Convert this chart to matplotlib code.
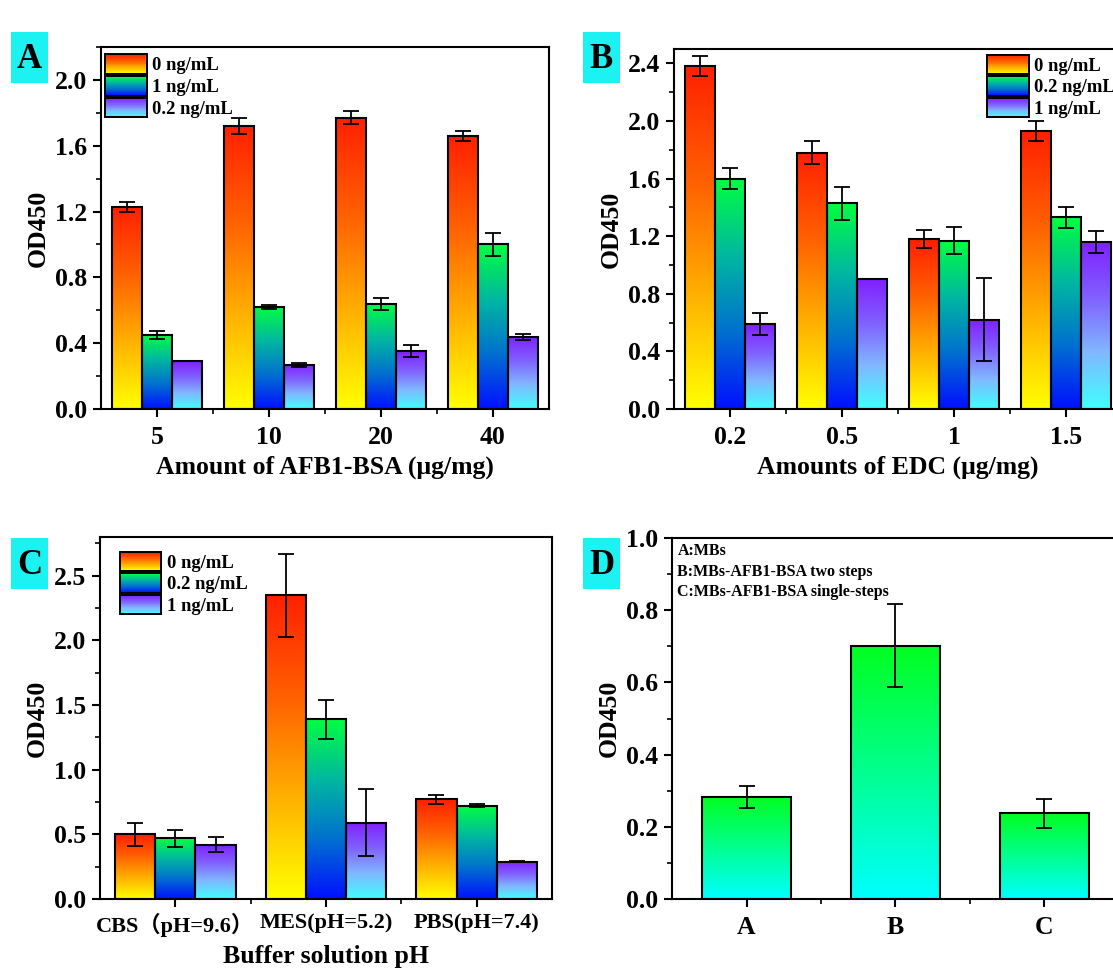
import numpy as np
import matplotlib
matplotlib.use('Agg')
import matplotlib.pyplot as plt
from matplotlib.colors import LinearSegmentedColormap
from matplotlib.patches import Rectangle, Patch
from matplotlib.legend_handler import HandlerBase
from matplotlib.ticker import AutoMinorLocator, FixedLocator, FormatStrFormatter

plt.rcParams['font.family'] = ['Liberation Serif', 'Noto Sans CJK SC']
plt.rcParams['font.weight'] = 'bold'
plt.rcParams['axes.linewidth'] = 1.5

# ---- data ----
a_cats = ['5', '10', '20', '40']
a_names = ['0 ng/mL', '1 ng/mL', '0.2 ng/mL']
a_vals = [[1.23, 1.72, 1.77, 1.66],
          [0.45, 0.62, 0.64, 1.00],
          [0.29, 0.27, 0.35, 0.44]]
a_err = [[0.03, 0.05, 0.04, 0.03],
         [0.024, 0.011, 0.037, 0.069],
         [0.0, 0.012, 0.037, 0.018]]

b_cats = ['0.2', '0.5', '1', '1.5']
b_names = ['0 ng/mL', '0.2 ng/mL', '1 ng/mL']
b_vals = [[2.38, 1.78, 1.18, 1.93],
          [1.60, 1.43, 1.17, 1.33],
          [0.59, 0.90, 0.62, 1.16]]
b_err = [[0.07, 0.08, 0.065, 0.07],
         [0.075, 0.115, 0.095, 0.07],
         [0.075, 0.0, 0.29, 0.075]]

c_cats = ['CBS（pH=9.6）', 'MES(pH=5.2)', 'PBS(pH=7.4)']
c_names = ['0 ng/mL', '0.2 ng/mL', '1 ng/mL']
c_vals = [[0.50, 2.35, 0.77],
          [0.47, 1.39, 0.72],
          [0.42, 0.59, 0.29]]
c_err = [[0.09, 0.32, 0.035],
         [0.065, 0.15, 0.012],
         [0.06, 0.26, 0.004]]

d_cats = ['A', 'B', 'C']
d_vals = [0.283, 0.702, 0.237]
d_err = [0.03, 0.115, 0.04]
d_note = ['A:MBs', 'B:MBs-AFB1-BSA two steps', 'C:MBs-AFB1-BSA single-steps']

# gradients: bottom colour -> top colour
cm_red = LinearSegmentedColormap.from_list('r', ['#FFFF00', '#FFB000', '#FF6000', '#FF2000'])
cm_grn = LinearSegmentedColormap.from_list('g', ['#0010FF', '#0070D0', '#00B8A0', '#00FF40'])
cm_pur = LinearSegmentedColormap.from_list('p', ['#40FFFF', '#80B8FF', '#8060FF', '#8020FF'])
cm_d = LinearSegmentedColormap.from_list('d', ['#00FFFF', '#00FF20'])
cmaps = [cm_red, cm_grn, cm_pur]

grad = np.linspace(0, 1, 256).reshape(-1, 1)
FS = 18.5


class GradHandler(HandlerBase):
    def __init__(self, cmap):
        super().__init__()
        self.cmap = cmap

    def create_artists(self, legend, orig_handle, xdescent, ydescent, width, height, fontsize, trans):
        arts = []
        n = 30
        for k in range(n):
            arts.append(Rectangle((-xdescent, -ydescent + height * k / n), width, height / n * 1.1,
                                  facecolor=self.cmap(k / (n - 1)), edgecolor='none', transform=trans))
        arts.append(Rectangle((-xdescent, -ydescent), width, height, fill=False,
                              edgecolor='black', lw=1.4, transform=trans))
        return arts


def grad_bar(ax, x, h, w, cmap, e):
    ax.imshow(grad, extent=(x - w / 2, x + w / 2, 0, h), origin='lower', aspect='auto',
              cmap=cmap, zorder=2, interpolation='bilinear')
    ax.bar(x, h, w, fill=False, edgecolor='black', lw=1.5, zorder=3)
    if e > 0:
        ax.errorbar(x, h, yerr=e, fmt='none', ecolor='black', capsize=6,
                    elinewidth=1.3, capthick=1.3, zorder=4)


def style(ax, ylim, ystep, ncat):
    ax.set_xlim(-0.5, ncat - 0.5)
    ax.set_ylim(0, ylim)
    ax.set_yticks(np.arange(0, ylim + 1e-9, ystep))
    ax.yaxis.set_major_formatter(FormatStrFormatter('%.1f'))
    ax.yaxis.set_minor_locator(AutoMinorLocator(2))
    ax.xaxis.set_minor_locator(FixedLocator(np.arange(0.5, ncat - 0.5, 1)))
    ax.tick_params(which='major', direction='out', length=6, width=1.5, labelsize=FS, pad=4)
    ax.tick_params(axis='x', which='major', pad=6)
    ax.tick_params(which='minor', direction='out', length=3.5, width=1.2)
    ax.set_ylabel('OD450', fontsize=FS, fontweight='bold', labelpad=4)


def grouped(ax, cats, vals, errs, names, ylim, ystep, leg_anchor):
    n = len(vals)
    w = 0.8 / n
    x = np.arange(len(cats))
    for i in range(n):
        for j in range(len(cats)):
            grad_bar(ax, x[j] + (i - (n - 1) / 2) * w, vals[i][j], w, cmaps[i], errs[i][j])
    ax.set_xticks(x)
    ax.set_xticklabels(cats)
    style(ax, ylim, ystep, len(cats))
    proxies = [Patch() for _ in range(n)]
    ax.legend(proxies, names, handler_map={p: GradHandler(cmaps[i]) for i, p in enumerate(proxies)},
              loc='upper left', bbox_to_anchor=leg_anchor, frameon=False,
              prop={'size': 13.4, 'weight': 'bold'}, handlelength=2.25, handleheight=1.25,
              labelspacing=0.08, handletextpad=0.3, borderpad=0.1, borderaxespad=0.1)


fig = plt.figure(figsize=(11.13, 9.71), dpi=100)
W, H = 1113, 971

axA = fig.add_axes([101 / W, 1 - 409 / H, 448 / W, 362 / H])
axB = fig.add_axes([674 / W, 1 - 409 / H, 448 / W, 360 / H])
axC = fig.add_axes([100 / W, 1 - 899 / H, 452 / W, 362 / H])
axD = fig.add_axes([672 / W, 1 - 899 / H, 447 / W, 361 / H])

grouped(axA, a_cats, a_vals, a_err, a_names, 2.2, 0.4, (0.0, 0.99))
axA.set_xlabel('Amount of AFB1-BSA (μg/mg)', fontsize=FS, fontweight='bold', labelpad=5)

grouped(axB, b_cats, b_vals, b_err, b_names, 2.5, 0.4, (0.69, 0.995))
axB.set_xlabel('Amounts of EDC (μg/mg)', fontsize=FS, fontweight='bold', labelpad=5)

grouped(axC, c_cats, c_vals, c_err, c_names, 2.8, 0.5, (0.035, 0.97))
axC.tick_params(axis='x', labelsize=16, pad=4)
axC.set_xlabel('Buffer solution pH', fontsize=FS, fontweight='bold', labelpad=6)

xd = np.arange(len(d_cats))
for j in range(len(d_cats)):
    grad_bar(axD, xd[j], d_vals[j], 0.6, cm_d, d_err[j])
axD.set_xticks(xd)
axD.set_xticklabels(d_cats)
style(axD, 1.0, 0.2, len(d_cats))
for k, t in enumerate(d_note):
    axD.text(0.012, 0.985 - k * 0.056, t, transform=axD.transAxes, fontsize=11.5,
             fontweight='bold', va='top', ha='left')

# panel letters
for lab, (x0, y0) in zip('ABCD', [(11, 32), (583, 32), (11, 538), (583, 538)]):
    fig.patches.append(Rectangle((x0 / W, 1 - (y0 + 51) / H), 37 / W, 51 / H,
                                 transform=fig.transFigure, facecolor='#1CF2F2', edgecolor='none'))
    fig.text((x0 + 18.5) / W, 1 - (y0 + 27) / H, lab, fontsize=25, fontweight='bold',
             ha='center', va='center')

fig.savefig('out.png', dpi=100)
